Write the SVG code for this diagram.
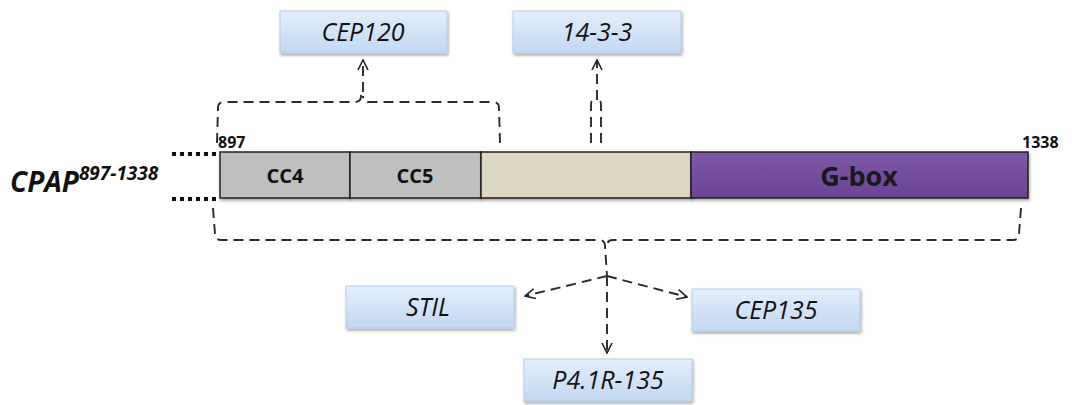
<svg xmlns="http://www.w3.org/2000/svg" width="1072" height="405" viewBox="0 0 1072 405">
<defs>
<linearGradient id="blue" x1="0" y1="0" x2="0" y2="1">
<stop offset="0" stop-color="#e2eefc"/>
<stop offset="1" stop-color="#c3d8f3"/>
</linearGradient>
<linearGradient id="purple" x1="0" y1="0" x2="0" y2="1">
<stop offset="0" stop-color="#8058a8"/>
<stop offset="1" stop-color="#6a4392"/>
</linearGradient>
<filter id="sh" x="-10%" y="-20%" width="120%" height="150%">
<feDropShadow dx="1" dy="2" stdDeviation="1.5" flood-color="#000" flood-opacity="0.35"/>
</filter>
<marker id="ah" viewBox="0 0 12 12" refX="11" refY="6" markerWidth="12" markerHeight="12" markerUnits="userSpaceOnUse" orient="auto">
<path d="M1,1 L11,6 L1,11" fill="none" stroke="#222" stroke-width="1.6"/>
</marker>
<style>
.box{fill:url(#blue);stroke:#b7cbe6;stroke-width:1;filter:url(#sh)}
.lbl{font-family:"Open Sans","Liberation Sans",sans-serif;font-style:italic;font-size:25px;fill:#111;text-anchor:middle}
.dom{stroke:#222;stroke-width:1.5}
.dt{font-family:"Open Sans","Liberation Sans",sans-serif;font-weight:bold;font-size:20px;fill:#111;text-anchor:middle}
.num{font-family:"Open Sans","Liberation Sans",sans-serif;font-weight:bold;font-size:16px;fill:#111}
.dash{fill:none;stroke:#2a2a2a;stroke-width:1.9;stroke-dasharray:10,6}
.dots{stroke:#111;stroke-width:4;stroke-dasharray:4,4}
</style>
</defs>

<g id="title">
<text x="10" y="192" font-family="'Open Sans','Liberation Sans',sans-serif" font-weight="bold" font-style="italic" font-size="28" fill="#111">CPAP<tspan font-size="19" dy="-12">897-1338</tspan></text>
</g>

<g id="dotted-ends">
<line class="dots" x1="172" y1="154" x2="220" y2="154"/>
<line class="dots" x1="172" y1="199" x2="220" y2="199"/>
</g>

<g id="cc4"><rect class="dom" x="220" y="152" width="130" height="46" fill="#bfbfbf" filter="url(#sh)"/><text class="dt" x="285" y="183">CC4</text></g>
<g id="cc5"><rect class="dom" x="350" y="152" width="131" height="46" fill="#bfbfbf" filter="url(#sh)"/><text class="dt" x="415" y="183">CC5</text></g>
<g id="mid"><rect class="dom" x="481" y="152" width="210" height="46" fill="#ddd8c3" filter="url(#sh)"/></g>
<g id="gbox"><rect class="dom" x="691" y="152" width="337" height="46" fill="url(#purple)" filter="url(#sh)"/><text x="859" y="186" font-family="'Open Sans','Liberation Sans',sans-serif" font-weight="bold" font-size="27" fill="#1a1a1a" text-anchor="middle">G-box</text></g>

<g id="numbers">
<text class="num" x="218" y="148">897</text>
<text class="num" x="1022" y="148">1338</text>
</g>

<g id="cep120"><rect class="box" x="280" y="11" width="167" height="42"/><text class="lbl" x="363" y="41">CEP120</text></g>
<g id="n1433"><rect class="box" x="513" y="11" width="168" height="42"/><text class="lbl" x="597" y="41">14-3-3</text></g>
<g id="stil"><rect class="box" x="346" y="286" width="168" height="42"/><text class="lbl" x="428" y="316">STIL</text></g>
<g id="cep135"><rect class="box" x="692" y="289" width="168" height="42"/><text class="lbl" x="776" y="319">CEP135</text></g>
<g id="p41r"><rect class="box" x="524" y="359" width="168" height="42"/><text class="lbl" x="608" y="389">P4.1R-135</text></g>

<g id="connectors">
<path class="dash" d="M217,143 L218,108 Q218,102 224,102 L355,102 Q361,102 361,96 L362,90"/>
<path class="dash" d="M500,143 L499,108 Q499,102 493,102 L369,102 Q363,102 363,96"/>
<path class="dash" d="M363,92 L363,60" marker-end="url(#ah)"/>
<path class="dash" d="M591,143 L591,104 Q591,100 595,100 L597,100 M601,143 L601,104 Q601,100 597,100"/>
<path class="dash" d="M597,100 L597,60" marker-end="url(#ah)"/>
<path class="dash" d="M213,208 L215,234 Q215,240 221,240 L599,240 Q605,240 605,246 L607,276"/>
<path class="dash" d="M1021,208 L1019,234 Q1019,240 1013,240 L613,240 Q607,240 607,246"/>
<path class="dash" d="M607,276 L525,296" marker-end="url(#ah)"/>
<path class="dash" d="M607,276 L687,297" marker-end="url(#ah)"/>
<path class="dash" d="M607,276 L607,353" marker-end="url(#ah)"/>
</g>
</svg>
